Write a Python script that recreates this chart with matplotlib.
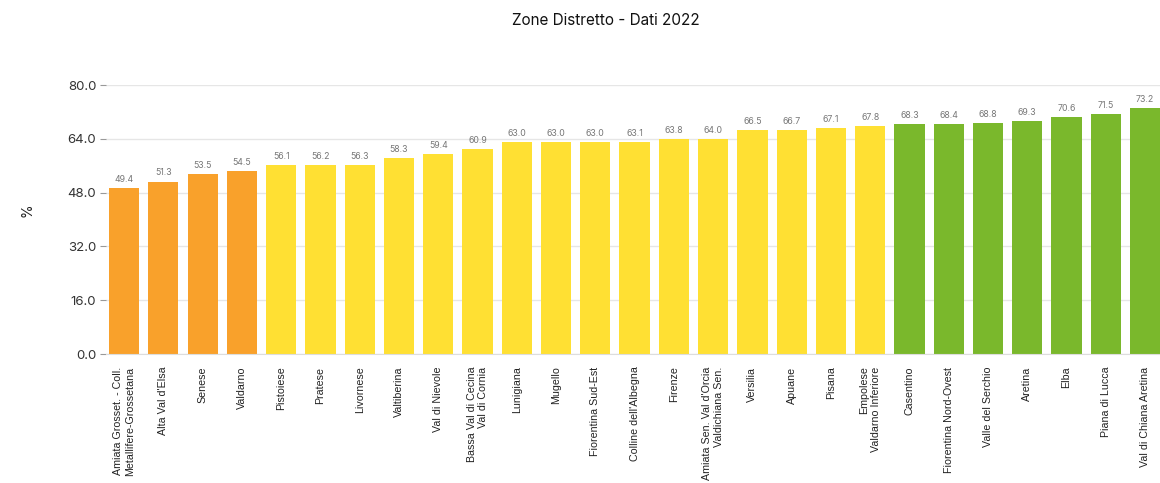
import matplotlib
matplotlib.use("Agg")
import matplotlib.pyplot as plt

zones = [
    "Amiata Grosset. - Coll.\nMetallifere-Grossetana", "Alta Val d'Elsa", "Senese", "Valdarno",
    "Pistoiese", "Pratese", "Livornese", "Valtiberina", "Val di Nievole",
    "Bassa Val di Cecina\nVal di Cornia", "Lunigiana", "Mugello", "Fiorentina Sud-Est",
    "Colline dell'Albegna", "Firenze", "Amiata Sen. Val d'Orcia\nValdichiana Sen.",
    "Versilia", "Apuane", "Pisana", "Empolese\nValdarno Inferiore", "Casentino",
    "Fiorentina Nord-Ovest", "Valle del Serchio", "Aretina", "Elba", "Piana di Lucca",
    "Val di Chiana Aretina",
]
values = [49.4, 51.3, 53.5, 54.5, 56.1, 56.2, 56.3, 58.3, 59.4, 60.9, 63.0, 63.0, 63.0,
          63.1, 63.8, 64.0, 66.5, 66.7, 67.1, 67.8, 68.3, 68.4, 68.8, 69.3, 70.6, 71.5, 73.2]
groups = ["low"] * 4 + ["mid"] * 16 + ["high"] * 7
yticks = [0, 16, 32, 48, 64, 80]

palette = {"low": "#F9A12B", "mid": "#FFE033", "high": "#7AB82C"}
colors = [palette[g] for g in groups]

fig = plt.figure(figsize=(11.6, 4.83), dpi=100)
ax = fig.add_axes([0.0914, 0.267, 0.9086, 0.557])
x = list(range(len(values)))
ax.bar(x, values, width=0.77, color=colors, zorder=2)
for xi, v in zip(x, values):
    ax.text(xi, v + 1.2, f"{v:.1f}", ha="center", va="bottom", fontsize=6.3,
            color="#777777", family="Inter")

ax.set_xlim(-0.46, len(values) - 0.62)
ax.set_ylim(0, 80)
ax.set_yticks(yticks)
ax.set_yticklabels([f"{t:.1f}" for t in yticks], fontsize=9.5, color="#333333", family="Inter")
ax.yaxis.grid(True, color="#e6e6e6", linewidth=1, zorder=0)
ax.tick_params(axis="y", length=4, color="#999999", pad=3)
ax.tick_params(axis="x", length=0, pad=9)
ax.set_xticks(x)
ax.set_xticklabels(zones, rotation=90, fontsize=7.7, family="Liberation Sans",
                   color="#222222", va="top", ha="center", multialignment="right")
for s in ["top", "right", "left"]:
    ax.spines[s].set_visible(False)
ax.spines["bottom"].set_color("#dddddd")

fig.text(0.024, 0.565, "%", rotation=90, ha="center", va="center", fontsize=10,
         color="#222222", family="Inter")
fig.text(0.522, 0.958, "Zone Distretto - Dati 2022", ha="center", va="center",
         fontsize=11, color="#111111", family="Inter")

fig.savefig("out.png", dpi=100)
